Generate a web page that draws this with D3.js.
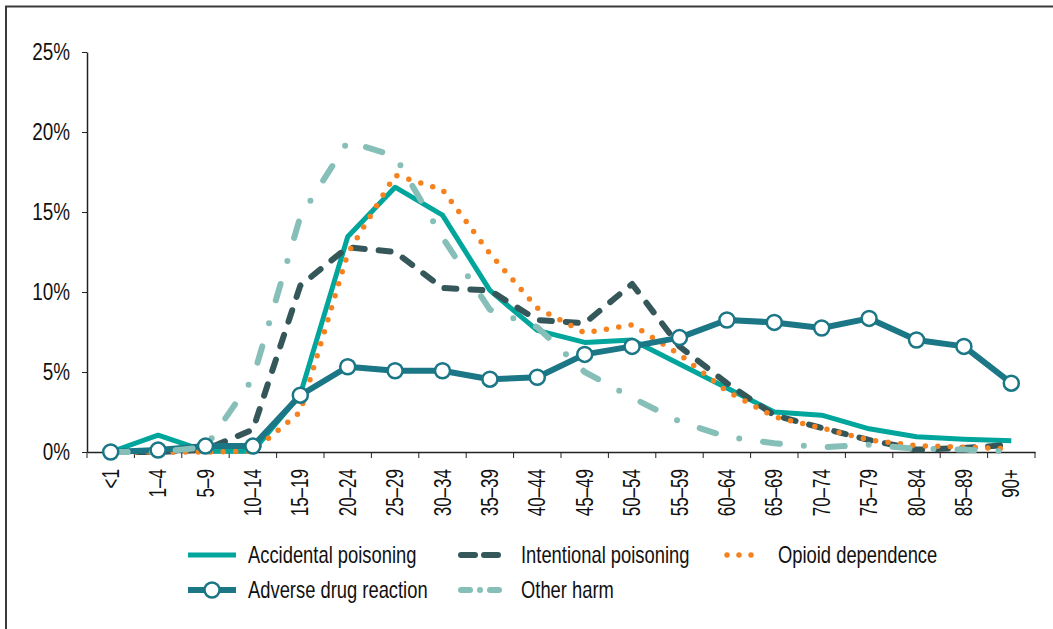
<!DOCTYPE html>
<html>
<head>
<meta charset="utf-8">
<script src="https://cdn.jsdelivr.net/npm/d3@7"></script>
<style>
  body { margin: 0; background: #fff; }
  svg text { font-family: "Liberation Sans", Arial, sans-serif; fill: #111; }
</style>
</head>
<body>
<div class="canva"></div>
<script>
// age groups and % of hospitalisations per harm type
const ages = ["<1", "1–4", "5–9", "10–14", "15–19", "20–24", "25–29", "30–34", "35–39", "40–44",
    "45–49", "50–54", "55–59", "60–64", "65–69", "70–74", "75–79", "80–84", "85–89", "90+"];
const accidental = [0, 1.05, 0.05, 0.05, 3.6, 13.45, 16.55, 14.8, 10.1, 7.6, 6.85, 7.0, 5.5, 4.0, 2.5, 2.3, 1.45, 0.95, 0.8, 0.7];
const intentional = [0, 0, 0.15, 1.4, 10.4, 12.8, 12.5, 10.25, 10.1, 8.25, 8.05, 10.5, 6.6, 4.3, 2.3, 1.5, 0.75, 0.15, 0.25, 0.45];
const opioid = [0, 0, 0, 0.05, 2.5, 12.4, 17.3, 16.4, 12.4, 9.0, 7.45, 7.95, 6.1, 3.8, 2.2, 1.5, 0.75, 0.4, 0.3, 0.2];
const adverse = [0, 0.12, 0.37, 0.37, 3.55, 5.33, 5.08, 5.08, 4.55, 4.67, 6.1, 6.6, 7.15, 8.25, 8.1, 7.75, 8.35, 7.0, 6.6, 4.3];
const other = [0, 0, 0.3, 4.6, 14.7, 19.4, 18.5, 13.4, 8.9, 7.8, 5.0, 3.4, 1.9, 0.95, 0.55, 0.3, 0.45, 0.2, 0.15, 0.0];
const yTicks = [0, 5, 10, 15, 20, 25];

const series = [
    { name: "Accidental poisoning", values: accidental, color: "#00a59b", width: 5, dash: null, cap: "butt" },
    { name: "Intentional poisoning", values: intentional, color: "#35575a", width: 6, dash: "12,14", cap: "round" },
    { name: "Opioid dependence", values: opioid, color: "#f5821f", width: 5.5, dash: "0,12.5", cap: "round" },
    { name: "Adverse drug reaction", values: adverse, color: "#1b7686", width: 6, dash: null, cap: "butt", marker: true },
    { name: "Other harm", values: other, color: "#86bfb8", width: 6, dash: "17,24,0,24", cap: "round" }
];

const svg = d3.select(".canva").append("svg")
    .attr("width", 1053)
    .attr("height", 629);

// narrow look: squeeze Liberation Sans glyphs to Arial Narrow width
function narrow(sel, k) {
    sel.each(function () {
        const len = this.getComputedTextLength();
        d3.select(this)
            .attr("textLength", len * k)
            .attr("lengthAdjust", "spacingAndGlyphs");
    });
}

// frame
svg.append("path")
    .attr("d", "M6,629V6.5H1053")
    .attr("fill", "none")
    .attr("stroke", "#3a3a3a")
    .attr("stroke-width", 2);

const x = d3.scaleBand().domain(ages).range([87, 1035]).padding(0);
const y = d3.scaleLinear().domain([0, 25]).range([452, 52]);
const cx = d => x(d) + x.bandwidth() / 2;

// y axis
const yAxis = d3.axisLeft(y)
    .tickValues(yTicks)
    .tickFormat(d => d + "%")
    .tickSize(5)
    .tickSizeOuter(0)
    .tickPadding(12);
const yAxisGroup = svg.append("g").attr("transform", "translate(87,0)").call(yAxis);
yAxisGroup.selectAll("text").style("font-size", "23px").call(narrow, 0.82);

// x axis: labels at band centres, ticks at band edges
const xAxis = d3.axisBottom(x).tickSize(0).tickSizeOuter(0);
const xAxisGroup = svg.append("g").attr("transform", "translate(0,452)").call(xAxis);
xAxisGroup.selectAll("text")
    .attr("transform", "rotate(-90)")
    .attr("text-anchor", "end")
    .attr("dy", "0.35em")
    .attr("x", -17)
    .attr("y", 0)
    .style("font-size", "23px")
    .call(narrow, 0.74);
xAxisGroup.selectAll(".edge")
    .data(ages.map(a => x(a)).concat([x.range()[1]]))
    .enter()
    .append("line")
    .attr("class", "edge")
    .attr("x1", d => d).attr("x2", d => d)
    .attr("y1", 0).attr("y2", 6)
    .attr("stroke", "#222");
svg.selectAll(".domain").attr("stroke", "#222").attr("stroke-width", 1.5);
svg.selectAll(".tick line").attr("stroke", "#222");

const line = d3.line()
    .x((d, i) => cx(ages[i]))
    .y(d => y(d));

const plot = svg.append("g");
series.forEach(s => {
    plot.append("path")
        .datum(s.values)
        .attr("fill", "none")
        .attr("stroke", s.color)
        .attr("stroke-width", s.width)
        .attr("stroke-linecap", s.cap)
        .attr("stroke-linejoin", "round")
        .attr("stroke-dasharray", s.dash)
        .attr("d", line);
});

const adr = series[3];
plot.selectAll(".marker")
    .data(adr.values)
    .enter()
    .append("circle")
    .attr("class", "marker")
    .attr("cx", (d, i) => cx(ages[i]))
    .attr("cy", d => y(d))
    .attr("r", 7.5)
    .attr("fill", "#fff")
    .attr("stroke", adr.color)
    .attr("stroke-width", 2.5);

// legend
const legendPos = [
    { x: 188, y: 555 }, { x: 458, y: 555 }, { x: 724, y: 555 },
    { x: 188, y: 590 }, { x: 458, y: 590 }
];
const swatchLen = [48, 51, 38, 48, 51];
const swatchDash = [null, "14,9", "0,12", null, "9,10,0,10"];
series.forEach((s, i) => {
    const g = svg.append("g").attr("transform", `translate(${legendPos[i].x}, ${legendPos[i].y})`);
    g.append("line")
        .attr("x1", s.cap === "round" ? 3 : 0)
        .attr("x2", swatchLen[i] - (s.cap === "round" ? 3 : 0))
        .attr("stroke", s.color)
        .attr("stroke-width", s.width)
        .attr("stroke-linecap", s.cap)
        .attr("stroke-dasharray", swatchDash[i]);
    if (s.marker) {
        g.append("circle")
            .attr("cx", swatchLen[i] / 2)
            .attr("r", 7.5)
            .attr("fill", "#fff")
            .attr("stroke", s.color)
            .attr("stroke-width", 2.5);
    }
    g.append("text")
        .attr("x", swatchLen[i] + (i === 2 ? 16 : 12))
        .attr("dy", "0.35em")
        .style("font-size", "24px")
        .text(s.name)
        .call(narrow, 0.765);
});
</script>
</body>
</html>
